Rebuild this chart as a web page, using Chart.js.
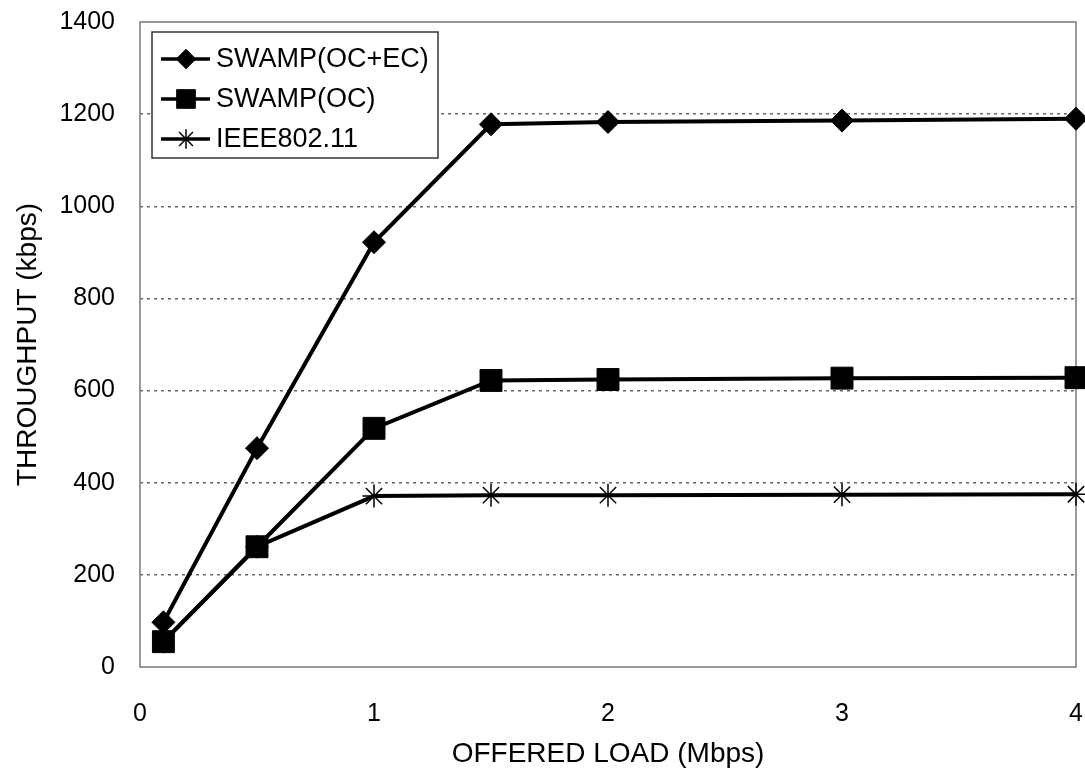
<!DOCTYPE html>
<html>
<head>
<meta charset="utf-8">
<script src="https://cdn.jsdelivr.net/npm/chart.js@4/dist/chart.umd.min.js"></script>
<style>
  html, body { margin: 0; padding: 0; background: #fff; }
</style>
</head>
<body>
<canvas id="throughputChart" width="1085" height="768"></canvas>
<script>
var loads = [0.1, 0.5, 1, 1.5, 2, 3, 4];
var swampOcEc = [97, 475, 922, 1178, 1183, 1186, 1190];
var swampOc = [55, 261, 518, 622, 624, 627, 628];
var ieee80211 = [55, 261, 371, 373, 373, 374, 375];
var seriesNames = ["SWAMP(OC+EC)", "SWAMP(OC)", "IEEE802.11"];

function toPoints(values) {
  return values.map(function (v, i) { return { x: loads[i], y: v }; });
}

var FONT = "'Liberation Sans', Arial, sans-serif";

// frame around plot + legend box drawn inside the plot
var framePlugin = {
  id: "frame",
  beforeDatasetsDraw: function (chart) {
    var a = chart.chartArea, c = chart.ctx;
    c.save();
    c.strokeStyle = "#777";
    c.lineWidth = 1.5;
    c.strokeRect(a.left, a.top, a.right - a.left, a.bottom - a.top);
    c.restore();
  },
  afterDraw: function (chart) {
    var c = chart.ctx;
    c.save();
    c.fillStyle = "#fff";
    c.fillRect(152, 32, 286, 126);
    c.strokeStyle = "#333";
    c.lineWidth = 1.5;
    c.strokeRect(152, 32, 286, 126);
    chart.data.datasets.forEach(function (ds, i) {
      var y = 59 + i * 40;
      c.strokeStyle = "#000";
      c.lineWidth = 3.5;
      c.beginPath();
      c.moveTo(161, y);
      c.lineTo(210, y);
      c.stroke();
      c.fillStyle = "#000";
      c.lineWidth = ds.pointBorderWidth;
      Chart.helpers.drawPoint(c, { pointStyle: ds.pointStyle, rotation: 0, radius: ds.pointRadius * 0.85, borderWidth: ds.pointBorderWidth }, 186, y);
      c.fillStyle = "#000";
      c.font = "27px " + FONT;
      c.textBaseline = "middle";
      c.fillText(ds.label, 216, y + 1);
    });
    c.restore();
  }
};

var ctx = document.getElementById("throughputChart").getContext("2d");
var throughputChart = new Chart(ctx, {
  type: "line",
  data: {
    datasets: [
      {
        label: seriesNames[0],
        data: toPoints(swampOcEc),
        borderColor: "#000",
        backgroundColor: "#000",
        borderWidth: 4,
        pointStyle: "rectRot",
        pointRadius: 11.5,
        pointBorderWidth: 1,
        clip: false,
      },
      {
        label: seriesNames[1],
        data: toPoints(swampOc),
        borderColor: "#000",
        backgroundColor: "#000",
        borderWidth: 4,
        pointStyle: "rect",
        pointRadius: 15.5,
        pointBorderWidth: 1,
        clip: false,
      },
      {
        label: seriesNames[2],
        data: toPoints(ieee80211),
        borderColor: "#000",
        backgroundColor: "#000",
        borderWidth: 4,
        pointStyle: "star",
        pointRadius: 11.5,
        pointBorderWidth: 1.5,
        clip: false,
      },
    ],
  },
  options: {
    responsive: false,
    animation: false,
    layout: { autoPadding: false, padding: { top: 22, right: 9, left: 0, bottom: 0 } },
    plugins: { legend: { display: false }, tooltip: { enabled: false } },
    scales: {
      x: {
        type: "linear",
        min: 0,
        max: 4,
        grid: { display: false },
        border: { display: false },
        ticks: {
          stepSize: 1,
          padding: 24,
          color: "#000",
          font: { family: FONT, size: 25 },
          callback: function (v) { return String(v); },
        },
        title: {
          display: true,
          text: "OFFERED LOAD (Mbps)",
          color: "#000",
          font: { family: FONT, size: 28, lineHeight: 1 },
          padding: { top: 0, bottom: 0 },
        },
        afterFit: function (s) {
          s.height = 101;
          s.paddingLeft = 0;
          s.paddingRight = 0;
        },
      },
      y: {
        min: 0,
        max: 1400,
        grid: {
          drawTicks: false,
          lineWidth: 1.5,
          color: function (c) {
            var v = c.tick && c.tick.value;
            return v === 0 || v === 1400 ? "rgba(0,0,0,0)" : "#666";
          },
        },
        border: { display: false, dash: [3, 4] },
        ticks: {
          stepSize: 200,
          padding: 25,
          color: "#000",
          font: { family: FONT, size: 25 },
          callback: function (v) { return String(v); },
        },
        title: {
          display: true,
          text: "THROUGHPUT (kbps)",
          color: "#000",
          font: { family: FONT, size: 28, lineHeight: 1 },
          padding: { top: 14, bottom: 0 },
        },
        afterFit: function (s) {
          s.width = 140;
          s.paddingTop = 0;
          s.paddingBottom = 0;
        },
      },
    },
  },
  plugins: [framePlugin],
});
</script>
</body>
</html>
